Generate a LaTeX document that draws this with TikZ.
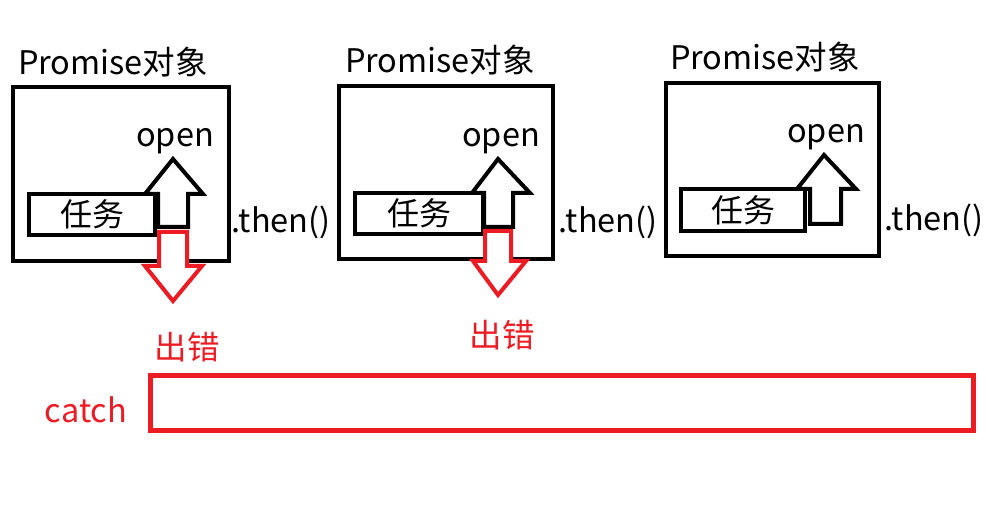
\documentclass[tikz,border=0pt]{standalone}
\usepackage{fontspec}
\setmainfont{Noto Sans CJK SC}
\definecolor{pred}{RGB}{237,28,36}
\begin{document}
\begin{tikzpicture}[x=1pt,y=-1pt,
  lbl/.style={inner sep=0pt,font=\fontsize{32.5}{36}\selectfont},
  box/.style={draw=black,line width=4pt,fill=white},
  upar/.style={draw=black,line width=4pt,fill=white,line join=miter},
  dnar/.style={draw=pred,line width=4pt,fill=white,line join=miter}]
\useasboundingbox[fill=white] (0,0) rectangle (986,518);
% boxes
\draw[box] (13,87) rectangle (229,261);
\draw[box] (339,86) rectangle (553,259);
\draw[box] (666,83) rectangle (879,256);
% open arrows
\draw[upar] (158,227) -- (158,194) -- (145,194) -- (173,159) -- (203,194) -- (188,194) -- (188,227) -- cycle;
\draw[upar] (484,227) -- (484,193) -- (472,193) -- (498,159) -- (530,193) -- (513,193) -- (513,227) -- cycle;
\draw[upar] (810,224) -- (810,189) -- (797,189) -- (824,155) -- (856,189) -- (841,189) -- (841,224) -- cycle;
% task boxes
\node[box,minimum width=126pt,minimum height=41pt,inner sep=0pt,font=\fontsize{32}{36}\selectfont] (t1) at (92,214.5) {任务};
\node[box,minimum width=128pt,minimum height=41pt,inner sep=0pt,font=\fontsize{32}{36}\selectfont] (t2) at (419,213.5) {任务};
\node[box,minimum width=124pt,minimum height=42pt,inner sep=0pt,font=\fontsize{32}{36}\selectfont] (t3) at (743,210) {任务};
% error arrows
\draw[dnar] (159,232) -- (159,266) -- (145,266) -- (173,301) -- (202,266) -- (187,266) -- (187,232) -- cycle;
\draw[dnar] (485,231) -- (485,261) -- (473,261) -- (498,295) -- (526,261) -- (511,261) -- (511,231) -- cycle;
% labels
\node[lbl] (p1) at (113,62) {Promise对象};
\node[lbl] (p2) at (440,60) {Promise对象};
\node[lbl] (p3) at (765,57) {Promise对象};
\node[lbl] (o1) at (175,141) {open};
\node[lbl] (o2) at (501,141) {open};
\node[lbl] (o3) at (826,137) {open};
\node[lbl] (n1) at (281,222) {.then()};
\node[lbl] (n2) at (608,222) {.then()};
\node[lbl] (n3) at (934,220) {.then()};
\node[lbl,text=pred] (e1) at (187,347) {出错};
\node[lbl,text=pred] (e2) at (502,335) {出错};
\node[lbl,text=pred] (c) at (86,410) {catch};
\node[draw=pred,line width=5pt,minimum width=823pt,minimum height=55pt,inner sep=0pt] (cb) at (561.5,403.5) {};
\end{tikzpicture}
\end{document}
